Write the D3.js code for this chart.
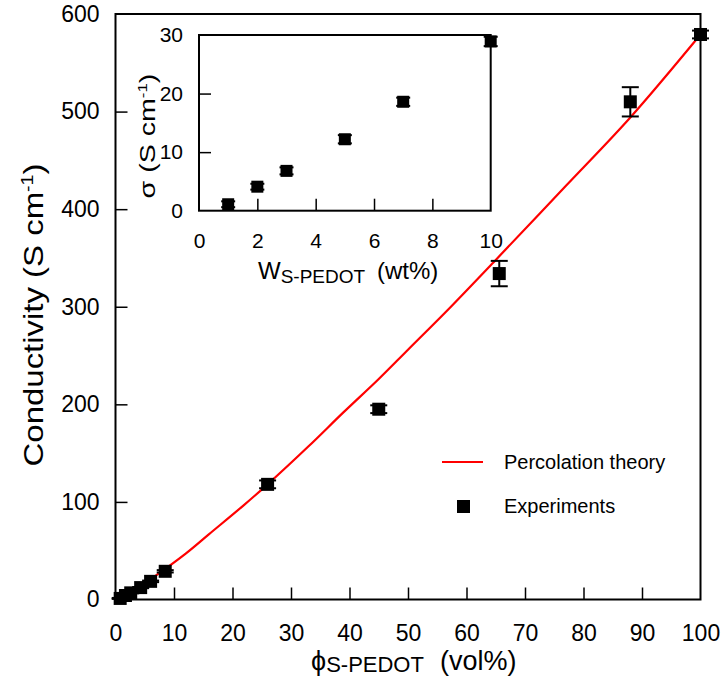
<!DOCTYPE html>
<html>
<head>
<meta charset="utf-8">
<script src="https://cdn.jsdelivr.net/npm/d3@7"></script>
<style>
  html, body { margin: 0; padding: 0; background: #fff; }
  svg { display: block; font-family: "Liberation Sans", Arial, sans-serif; }
</style>
</head>
<body>
<svg id="chart" width="724" height="686"></svg>
<script>
// Experimental conductivity vs. S-PEDOT volume fraction
const phiVol   = [0.8, 1.7, 2.6, 4.3, 6.0, 8.5, 26, 45, 65.6, 88, 100];
const sigmaVol = [1.1, 4.1, 6.8, 12.2, 18.6, 28.9, 118, 195, 334, 510, 579];
const errVol   = [0.5, 0.5, 0.5, 0.6, 0.8, 1.2, 4, 4, 13, 15, 4];

// Percolation-theory fit curve
const fitPhi   = [4, 7, 12, 16, 22, 26, 33, 39, 45, 50, 57, 65, 77, 88, 100];
const fitSigma = [13, 25, 47, 67, 97, 118, 157, 192, 226, 256, 298, 348, 424, 494, 579];

// Inset: conductivity vs. S-PEDOT weight fraction
const wtPct    = [1, 2, 3, 5, 7, 10];
const sigmaWt  = [1.1, 4.1, 6.8, 12.2, 18.6, 28.9];
const errWt    = [0.5, 0.5, 0.6, 0.7, 0.7, 0.8];

// Tick values
const mainXTicks  = [0, 10, 20, 30, 40, 50, 60, 70, 80, 90, 100];
const mainYTicks  = [0, 100, 200, 300, 400, 500, 600];
const insetXTicks = [0, 2, 4, 6, 8, 10];
const insetYTicks = [0, 10, 20, 30];

const FONT = "'Liberation Sans', Arial, sans-serif";
const svg = d3.select("#chart");

// ---------- main panel ----------
const x = d3.scaleLinear().domain([0, 100]).range([115.5, 700.5]);
const y = d3.scaleLinear().domain([0, 600]).range([599.5, 14]);

const main = svg.append("g");

// frame
main.append("rect")
  .attr("x", x(0)).attr("y", y(600))
  .attr("width", x(100) - x(0)).attr("height", y(0) - y(600))
  .attr("fill", "none").attr("stroke", "#000").attr("stroke-width", 2);

// inward ticks + labels
const xAxis = d3.axisBottom(x).tickValues(mainXTicks).tickSizeInner(-12).tickSizeOuter(0).tickPadding(25);
const yAxis = d3.axisLeft(y).tickValues(mainYTicks).tickSizeInner(-12).tickSizeOuter(0).tickPadding(16);

const gx = main.append("g").attr("transform", `translate(0,${y(0)})`).call(xAxis);
const gy = main.append("g").attr("transform", `translate(${x(0)},0)`).call(yAxis);
[gx, gy].forEach(g => {
  g.select(".domain").remove();
  g.selectAll(".tick line").attr("stroke", "#000").attr("stroke-width", 1.5);
  g.selectAll(".tick text").attr("fill", "#000").style("font-size", "23px").style("font-family", FONT);
});
gx.selectAll(".tick line").filter(d => d === 0 || d === 100).remove();
gy.selectAll(".tick line").filter(d => d === 0 || d === 600).remove();

// fit curve
const fitLine = d3.line()
  .x((d, i) => x(fitPhi[i]))
  .y((d, i) => y(fitSigma[i]))
  .curve(d3.curveCatmullRom.alpha(0.5));
main.append("path")
  .datum(fitPhi)
  .attr("d", fitLine)
  .attr("fill", "none").attr("stroke", "#ff0000").attr("stroke-width", 2.2);

// experimental points with error bars
function drawPoints(g, xs, ys, es, sx, sy, size, cap) {
  const pts = xs.map((v, i) => ({ x: v, y: ys[i], e: es[i] }));
  const grp = g.append("g").selectAll("g").data(pts).join("g");
  grp.append("line")
    .attr("x1", d => sx(d.x)).attr("x2", d => sx(d.x))
    .attr("y1", d => sy(d.y - d.e)).attr("y2", d => sy(d.y + d.e))
    .attr("stroke", "#000").attr("stroke-width", 2);
  [-1, 1].forEach(s => {
    grp.append("line")
      .attr("x1", d => sx(d.x) - cap / 2).attr("x2", d => sx(d.x) + cap / 2)
      .attr("y1", d => sy(d.y + s * d.e)).attr("y2", d => sy(d.y + s * d.e))
      .attr("stroke", "#000").attr("stroke-width", 2);
  });
  grp.append("rect")
    .attr("x", d => sx(d.x) - size / 2).attr("y", d => sy(d.y) - size / 2)
    .attr("width", size).attr("height", size).attr("fill", "#000");
}
drawPoints(main, phiVol, sigmaVol, errVol, x, y, 13, 17);

// axis titles (the typeface is drawn a little elongated along the text)
const yTitle = main.append("text")
  .attr("transform", "translate(43,315) rotate(-90) scale(1.22,1)")
  .attr("text-anchor", "middle").style("font-size", "27px").attr("fill", "#000");
yTitle.append("tspan").text("Conductivity (S cm");
yTitle.append("tspan").attr("dy", -10).style("font-size", "16px").text("-1");
yTitle.append("tspan").attr("dy", 10).text(")");

const xTitle = main.append("text")
  .attr("x", 311).attr("y", 670)
  .attr("text-anchor", "start").style("font-size", "27px").attr("fill", "#000");
xTitle.append("tspan").text("\u03d5");
xTitle.append("tspan").attr("dy", 2).style("font-size", "22px").text("S-PEDOT");
xTitle.append("tspan").attr("x", 440).attr("dy", -2).text("(vol%)");

// legend
const legend = main.append("g");
legend.append("line")
  .attr("x1", 442).attr("x2", 483).attr("y1", 462).attr("y2", 462)
  .attr("stroke", "#ff0000").attr("stroke-width", 2);
legend.append("text").attr("x", 504).attr("y", 469)
  .style("font-size", "20px").attr("fill", "#000").text("Percolation theory");
legend.append("rect").attr("x", 457).attr("y", 500).attr("width", 13).attr("height", 13).attr("fill", "#000");
legend.append("text").attr("x", 504).attr("y", 513)
  .style("font-size", "20px").attr("fill", "#000").text("Experiments");

// ---------- inset panel ----------
const xi = d3.scaleLinear().domain([0, 10]).range([199, 490.7]);
const yi = d3.scaleLinear().domain([0, 30]).range([210.7, 35]);
const inset = svg.append("g");

inset.append("rect")
  .attr("x", xi(0)).attr("y", yi(30))
  .attr("width", xi(10) - xi(0)).attr("height", yi(0) - yi(30))
  .attr("fill", "#fff").attr("stroke", "#000").attr("stroke-width", 2);

const xiAxis = d3.axisBottom(xi).tickValues(insetXTicks).tickSizeInner(-12).tickSizeOuter(0).tickPadding(22);
const yiAxis = d3.axisLeft(yi).tickValues(insetYTicks).tickSizeInner(-12).tickSizeOuter(0).tickPadding(16);
const gxi = inset.append("g").attr("transform", `translate(0,${yi(0)})`).call(xiAxis);
const gyi = inset.append("g").attr("transform", `translate(${xi(0)},0)`).call(yiAxis);
[gxi, gyi].forEach(g => {
  g.select(".domain").remove();
  g.selectAll(".tick line").attr("stroke", "#000").attr("stroke-width", 1.5);
  g.selectAll(".tick text").attr("fill", "#000").style("font-size", "21px").style("font-family", FONT);
});
gxi.selectAll(".tick line").filter(d => d === 0 || d === 10).remove();
gyi.selectAll(".tick line").filter(d => d === 0 || d === 30).remove();

drawPoints(inset, wtPct, sigmaWt, errWt, xi, yi, 12, 14);

const yiTitle = inset.append("text")
  .attr("transform", "translate(155,136) rotate(-90) scale(1.3,1)")
  .attr("text-anchor", "middle").style("font-size", "22px").attr("fill", "#000");
yiTitle.append("tspan").text("\u03c3 (S cm");
yiTitle.append("tspan").attr("dy", -8).style("font-size", "13px").text("-1");
yiTitle.append("tspan").attr("dy", 8).text(")");

const xiTitle = inset.append("text")
  .attr("x", 258).attr("y", 279)
  .attr("text-anchor", "start").style("font-size", "24px").attr("fill", "#000");
xiTitle.append("tspan").text("W");
xiTitle.append("tspan").attr("dy", 4).style("font-size", "19px").text("S-PEDOT");
xiTitle.append("tspan").attr("x", 377).attr("dy", -4).text("(wt%)");
</script>
</body>
</html>
